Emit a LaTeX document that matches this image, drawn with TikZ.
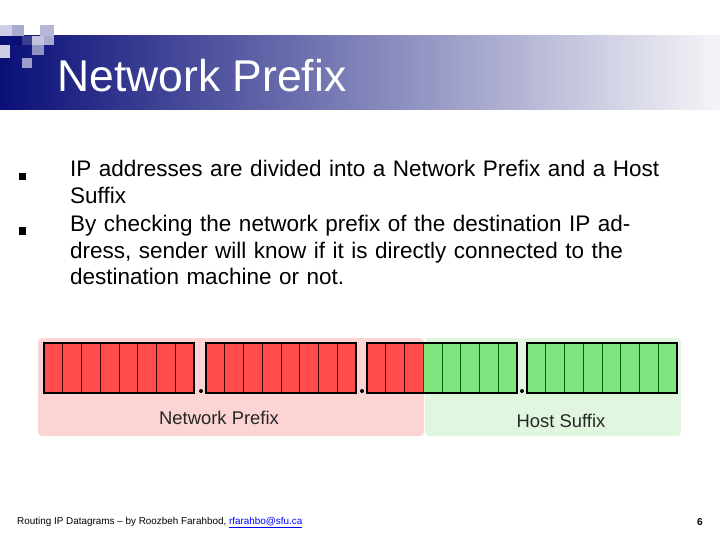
\documentclass[tikz,border=0pt]{standalone}
\usepackage{fontspec}
\setmainfont{Liberation Sans}
\begin{document}
\begin{tikzpicture}[x=1pt,y=-1pt,
  cellr/.style={draw=black!75!red,fill=red!70!white,line width=0.7pt},
  cellg/.style={draw=black!60!green,fill=green!45!white!90!black,line width=0.6pt},
  octet/.style={draw=black,line width=1.6pt},
  dotn/.style={circle,fill=black,inner sep=0pt,minimum size=4pt},
  lbl/.style={font=\fontsize{18.4}{20}\selectfont,text=black!85},
  bul/.style={fill=black,minimum size=7pt,inner sep=0pt},
  body/.style={font=\fontsize{22.5}{26.5}\selectfont,anchor=north west,align=left,text width=590pt,inner sep=0pt}]
\useasboundingbox (0,0) rectangle (720,540);
\definecolor{navy}{RGB}{10,15,120}
\definecolor{pale}{RGB}{245,245,248}
\definecolor{pinkbg}{RGB}{252,212,212}
\definecolor{greenbg}{RGB}{224,246,222}
% header
\shade[left color=navy,right color=pale] (0,36) rectangle (720,110);
\fill[navy!20] (0,25) rectangle (12,36);
\fill[navy!35] (12,25) rectangle (24,36);
\fill[navy!30] (40,25) rectangle (54,36);
\fill[navy] (10,36) rectangle (22,45);
\fill[navy!80] (22,36) rectangle (32,45);
\fill[navy!25] (32,36) rectangle (44,45);
\fill[navy!35] (44,36) rectangle (54,45);
\fill[navy!20] (0,45) rectangle (10,58);
\fill[navy!45] (32,45) rectangle (44,55);
\fill[navy!40] (22,58) rectangle (32,68);
\node[anchor=base west,text=white,font=\fontsize{44.5}{48}\selectfont,inner sep=0pt] (title) at (57,92) {Network Prefix};
% bullets
\node[bul] (b1) at (22,177) {};
\node[bul] (b2) at (22,231) {};
\node[body] (t1) at (70,160) {IP addresses are divided into a Network Prefix and a Host Suffix};
\node[body] (t2) at (70,215) {By checking the network prefix of the destination IP address, sender will know if it is directly connected to the destination machine or not.};
% background panels
\fill[pinkbg,rounded corners=4pt] (38,338) rectangle (424,436);
\fill[greenbg,rounded corners=4pt] (425,338) rectangle (681,436);
% octets
\foreach \x/\n in {44/0,206/1,367/2,527/3}{
  \foreach \i in {0,...,7}{
    \pgfmathtruncatemacro{\k}{\n*8+\i}
    \ifnum\k<19
      \draw[cellr] (\x+\i*18.75,343) rectangle ++(18.75,50);
    \else
      \draw[cellg] (\x+\i*18.75,343) rectangle ++(18.75,50);
    \fi
  }
  \draw[octet] (\x,343) rectangle ++(150,50);
}
\node[dotn] (d1) at (201,391) {};
\node[dotn] (d2) at (362,391) {};
\node[dotn] (d3) at (522,391) {};
\node[lbl] (np) at (219,418) {Network Prefix};
\node[lbl] (hs) at (561,421) {Host Suffix};
% footer
\node[anchor=base west,font=\fontsize{9.9}{11}\selectfont,inner sep=0pt] (foot) at (17,524) {Routing IP Datagrams -- by Roozbeh Farahbod, \textcolor{blue}{\underline{rfarahbo@sfu.ca}}};
\node[anchor=base east,font=\bfseries\fontsize{10}{12}\selectfont,inner sep=0pt] (pg) at (703,525) {6};
\end{tikzpicture}
\end{document}
